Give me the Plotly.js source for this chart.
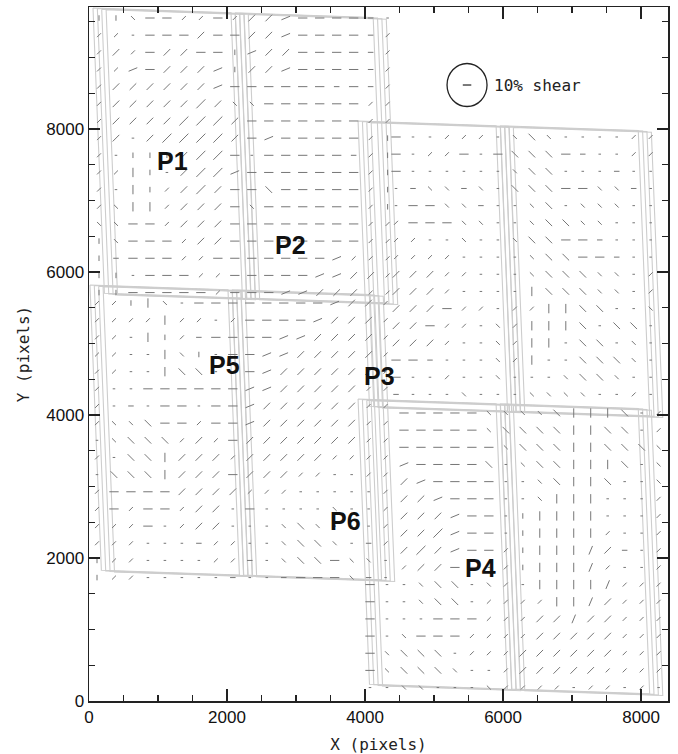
<!DOCTYPE html>
<html>
<head>
<meta charset="utf-8">
<script src="https://cdn.plot.ly/plotly-3.0.1.min.js"></script>
<style>html,body{margin:0;padding:0;background:#fff}</style>
</head>
<body>
<div id="chart" style="width:678px;height:754px"></div>
<script>
// ---------------- data ----------------
// Axis extents (detector pixels)
const xRange = [0, 8390];
const yRange = [0, 9706];

// Pointing footprints: outer top-left corner of the first exposure of each pointing
const footX = [58, 14, 3899, 3899];
const footY = [9692, 5818, 8112, 4224];
// chip geometry (two chips per exposure, split by a vertical gap)
const chipW = 2000, chipGap = 60, chipH = 3990;
// the chips are sheared parallelograms in this frame
const topSlope = 0.0328, sideSlope = 0.0414;
// dither offsets of the exposures in each pointing
const ditherDX = [0, 63, 126, 190];
const ditherDY = [0, -8, -16, -24];

// Shear-map grids: first grid node of each pointing and node spacing
const gridX0 = [145, 116, 4449, 4072];
const gridY0 = [9552, 5566, 7888, 4028];
const gridStepX = 246, gridStepY = 240;

// Whisker codes, one character per grid node (rows top to bottom).
// orientation k*22.5 deg:  a-h short, 0-7 medium, A-H long;  '.' tiny;  ' ' none
const whiskA = [
  "eeg00cc0c2210000a.",
  "cc.0002002210000ac",
  "c2c02200e1220000ac",
  "cc102221e2210000ac",
  "c2222221000000a0ac",
  "c22222C2gg000000cc",
  "c2222CCC20000000cc",
  "c2.2CCCC20100000ce",
  "c.eee2CC0.00000ace",
  "cc4e.2CC10000000ce",
  "c.4ec2C200600000ce",
  "cg44c2220g000000ce",
  "gg00c22200000000cc",
  "eg000c2200000000cc",
  "ea000cc00000001ccc",
  "ee.000cc000001122c",
  "ee00000c00011222cc"
];
const whiskB = [
  "cce4g.00000000122c",
  "cccc4cc.c00001222c",
  "cc.4eca0000112222c",
  "cc..4ge.001122222c",
  "cc..466.001222222c",
  "c..0000001122222cc",
  "c.a.00.001222222cc",
  "cgg600c001222222cc",
  ".g666c2c02222222cc",
  "c.664222c22222cccc",
  ".66642220222cc..cc",
  "c00002222ccc.....c",
  "c0c00c22.0....g..c",
  "ccc0.c22...g6g...c",
  "ccc...acc..g66g.ac",
  "ecc....cca.g660gg.",
  "ecc.....a..a000ga."
];
const whiskC = [
  "0..ccc.g6g....cc",
  "0.cc0.06660a..cc",
  "0......g66...a..",
  ".aggag.66600gga.",
  ".00gga..g6.ggg..",
  "c000gg..g66gg...",
  "cc..g..g6600a...",
  "cccc....g6600a..",
  "222cc...g666gg.c",
  "222c....4666gg.c",
  "2220cc.cc4466..g",
  "220cc.gc4446.66.",
  "222c..gc44.66.g.",
  "00a...gc4..666g.",
  "0..c..g...g66g..",
  "a...g...gggg..c."
];
const whiskD = [
  "  00000gggg64446.c",
  "  00000g66664466.c",
  "  000000g66644666g",
  "  100006.g664446.g",
  "  210000..g6446..g",
  "  221000..g444...c",
  "  222100.e4444...c",
  "  22C100.e4444c..c",
  "  2C2100ce44432a.c",
  "  c2200.ce4443c..c",
  "0..g66.gc.44443ccc",
  "0..g66.cccc4432ccc",
  "0...000ccc22322ccc",
  "0.g000cccc22222ccc",
  "0g666.ccc222222ccc",
  "0g666g..c22222cccc",
  "..gg...gcccc.cc.c."
];
const whiskGrids = [whiskA, whiskB, whiskC, whiskD];

// Pointing labels
const labelText = ["P1", "P2", "P3", "P4", "P5", "P6"];
const labelX = [1203, 2913, 4203, 5667, 1957, 3710];
const labelY = [7552, 6378, 4545, 1860, 4699, 2517];

// Reference whisker
const refShear = 0.10;
const refX = 5478, refY = 8615;

// ---------------- drawing ----------------
const W = 678, H = 754;
const M = {l: 89, r: 10, t: 7, b: 53};
const pxX = (W - M.l - M.r) / (xRange[1] - xRange[0]);
const pxY = (H - M.t - M.b) / (yRange[1] - yRange[0]);
const pxPerShear = 85;   // whisker length in screen pixels per unit shear

function decode(ch) {
  if (ch === ' ') return null;
  if (ch === '.') return [0, 0.03];
  let i = 'abcdefgh'.indexOf(ch); if (i >= 0) return [i * 22.5, 0.065];
  i = '01234567'.indexOf(ch); if (i >= 0) return [i * 22.5, 0.11];
  i = 'ABCDEFGH'.indexOf(ch); if (i >= 0) return [i * 22.5, 0.15];
  return null;
}
function pushWhisker(xs, ys, x, y, angDeg, shear) {
  const hl = shear * pxPerShear / 2;
  const a = angDeg * Math.PI / 180;
  const dx = hl * Math.cos(a) / pxX, dy = hl * Math.sin(a) / pxY;
  xs.push(x - dx, x + dx, null);
  ys.push(y - dy, y + dy, null);
}

// footprints
const fx = [], fy = [];
for (let p = 0; p < footX.length; p++) {
  for (let k = 0; k < ditherDX.length; k++) {
    const X0 = footX[p] + ditherDX[k], Y0 = footY[p] + ditherDY[k];
    for (let c = 0; c < 2; c++) {
      const u0 = c * (chipW + chipGap), u1 = u0 + chipW;
      const corners = [[u0, 0], [u1, 0], [u1, chipH], [u0, chipH], [u0, 0]];
      corners.forEach(([u, v]) => {
        fx.push(X0 + u + sideSlope * v);
        fy.push(Y0 - v - topSlope * u);
      });
      fx.push(null); fy.push(null);
    }
  }
}

// whiskers
const wx = [], wy = [];
whiskGrids.forEach((rows, g) => {
  rows.forEach((row, r) => {
    for (let c = 0; c < row.length; c++) {
      const s = decode(row[c]);
      if (!s) continue;
      pushWhisker(wx, wy, gridX0[g] + c * gridStepX, gridY0[g] - r * gridStepY, s[0], s[1]);
    }
  });
});
const rx = [], ry = [];
pushWhisker(rx, ry, refX, refY, 0, refShear);

const traces = [
  {x: fx, y: fy, type: 'scatter', mode: 'lines', hoverinfo: 'skip',
   line: {color: '#cdcdcd', width: 1.1}},
  {x: wx, y: wy, type: 'scatter', mode: 'lines', hoverinfo: 'skip',
   line: {color: '#767676', width: 1}},
  {x: rx, y: ry, type: 'scatter', mode: 'lines', hoverinfo: 'skip',
   line: {color: '#222', width: 1.2}},
  // carries the top / right tick axes
  {x: [], y: [], xaxis: 'x2', yaxis: 'y2', type: 'scatter', mode: 'lines', hoverinfo: 'skip'}
];

const annotations = labelText.map((t, i) => ({
  x: labelX[i], y: labelY[i], xref: 'x', yref: 'y', text: t, showarrow: false,
  font: {family: 'Liberation Sans, Arial, sans-serif', size: 25, color: '#111', weight: 'bold'}
}));
annotations.push({
  x: refX + 25 / pxX, y: refY, xref: 'x', yref: 'y', text: '10% shear', showarrow: false,
  xanchor: 'left', font: {family: 'DejaVu Sans Mono, monospace', size: 16, color: '#222'}
});

const axisCommon = {
  showgrid: false, zeroline: false, showline: true, linecolor: '#222', linewidth: 1.5,
  ticks: 'inside', tickwidth: 1.5, tickcolor: '#222',
  tick0: 0, dtick: 2000, fixedrange: true,
  tickfont: {family: 'Liberation Sans, Arial, sans-serif', size: 17, color: '#111'},
  minor: {dtick: 500, ticks: 'inside', ticklen: 6, tickwidth: 1.2, tickcolor: '#222', showgrid: false}
};
const titleFont = {family: 'DejaVu Sans Mono, monospace', size: 16, color: '#222'};

const layout = {
  width: W, height: H, margin: M, showlegend: false,
  paper_bgcolor: '#fff', plot_bgcolor: '#fff',
  xaxis: Object.assign({}, axisCommon, {
    range: xRange, ticklen: 12, anchor: 'y',
    title: {text: 'X (pixels)', standoff: 13, font: titleFont}
  }),
  yaxis: Object.assign({}, axisCommon, {
    range: yRange, ticklen: 11, anchor: 'x',
    title: {text: 'Y (pixels)', standoff: 12, font: titleFont}
  }),
  xaxis2: Object.assign({}, axisCommon, {
    range: xRange, ticklen: 12, overlaying: 'x', side: 'top', anchor: 'y2',
    showticklabels: false
  }),
  yaxis2: Object.assign({}, axisCommon, {
    range: yRange, ticklen: 11, overlaying: 'y', side: 'right', anchor: 'x2',
    showticklabels: false
  }),
  shapes: [{
    type: 'circle', xref: 'x', yref: 'y',
    x0: refX - 20 / pxX, x1: refX + 20 / pxX, y0: refY - 21.5 / pxY, y1: refY + 21.5 / pxY,
    line: {color: '#222', width: 1.3}
  }],
  annotations: annotations
};

Plotly.newPlot('chart', traces, layout, {staticPlot: true, displayModeBar: false});
</script>
</body>
</html>
